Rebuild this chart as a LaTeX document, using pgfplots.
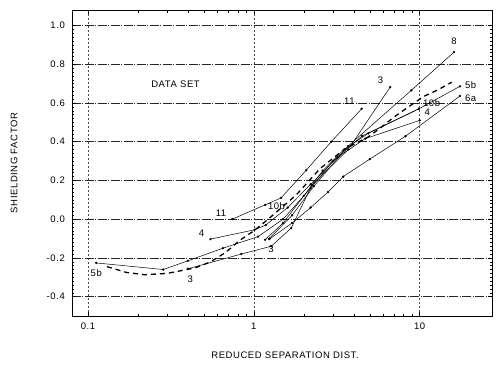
\documentclass[border=0pt]{standalone}
\usepackage{fontspec}
\setmainfont{Liberation Sans}[LetterSpace=6]
\usepackage{pgfplots}
\pgfplotsset{compat=1.18}
\tikzset{crv/.style={black, solid, line width=0.5pt, mark=*, mark size=0.9pt, mark options={solid, fill=black}}}
\begin{document}
\begin{tikzpicture}[font=\fontsize{9.5}{11}\selectfont]
\begin{axis}[
  scale only axis, width=420pt, height=306pt,
  xmode=log, xmin=0.08, xmax=27.3, ymin=-0.5, ymax=1.08,
  xtick={0.1,1,10}, xticklabels={0.1,1,10},
  ytick={-0.4,-0.2,0,0.2,0.4,0.6,0.8,1.0},
  yticklabels={-0.4,-0.2,0.0,0.2,0.4,0.6,0.8,1.0},
  minor y tick num=9,
  yticklabel style={inner sep=1pt, xshift=-6pt},
  xticklabel style={yshift=-3pt},
  tick align=inside, major tick length=4pt, minor tick length=2.5pt,
  tick style={black, line width=0.4pt},
  axis line style={black, line width=0.8pt},
  grid=major,
  x grid style={black!70, line width=0.4pt, dash pattern=on 2pt off 2pt},
  y grid style={black!85, line width=0.7pt, dash pattern=on 9pt off 1.5pt on 1pt off 1.5pt},
]
\coordinate (ll) at (rel axis cs:0,0);
\coordinate (ur) at (rel axis cs:1,1);
\coordinate (ml) at (rel axis cs:0,0.5);
\coordinate (mb) at (rel axis cs:0.5,0);
% data set (dashed)
\addplot[black, no marks, line width=1.3pt, dash pattern=on 5pt off 4pt] coordinates {
 (0.13,-0.245) (0.17,-0.275) (0.22,-0.287) (0.30,-0.28) (0.44,-0.252) (0.55,-0.22)
 (0.68,-0.17) (0.82,-0.11) (1.0,-0.06) (1.22,0.0) (1.8,0.125) (2.5,0.26) (3.5,0.36)
 (4.9,0.425) (5.9,0.476) (7,0.527) (8.8,0.587) (10.6,0.634) (12.9,0.668) (15.6,0.707)};
% 5b
\addplot[crv] coordinates {(0.112,-0.226) (0.284,-0.26) (0.40,-0.215) (0.65,-0.15) (1.06,-0.09)
 (1.5,0.0) (2.2,0.16) (3.0,0.30) (4.5,0.43) (9.9,0.57) (17.5,0.686)};
% 3
\addplot[crv] coordinates {(0.40,-0.256) (0.84,-0.18) (1.27,-0.14) (1.68,-0.046) (2.24,0.176)
 (3.71,0.36) (6.64,0.682)};
% 4
\addplot[crv] coordinates {(0.547,-0.103) (1.01,-0.055) (1.18,-0.03) (1.6,0.06) (2.2,0.18)
 (3.2,0.32) (4.7,0.416) (10,0.51)};
% 11
\addplot[crv] coordinates {(0.74,0.0) (1.17,0.074) (1.46,0.11) (2.07,0.253) (2.93,0.40) (4.47,0.57)};
% 8
\addplot[crv] coordinates {(1.24,-0.10) (1.7,0.02) (2.3,0.17) (3.7,0.377) (8.9,0.665) (16.1,0.862)};
% 10b
\addplot[crv] coordinates {(1.17,-0.106) (1.5,-0.02) (2.0,0.12) (2.6,0.25) (3.5,0.36) (4.9,0.443) (9.9,0.57)};
% 6a
\addplot[crv] coordinates {(1.24,-0.103) (1.7,-0.02) (2.2,0.06) (2.8,0.14) (3.46,0.22) (5,0.31)
 (8.2,0.428) (17.5,0.636)};
% labels
\node at (axis cs:0.337,0.696) {DATA SET};
\node at (axis cs:16.1,0.92) {8};
\node at (axis cs:5.8,0.716) {3};
\node at (axis cs:3.77,0.608) {11};
\node at (axis cs:11.8,0.598) {10b};
\node at (axis cs:11.1,0.553) {4};
\node at (axis cs:20.3,0.69) {5b};
\node at (axis cs:20.3,0.622) {6a};
\node at (axis cs:0.634,0.031) {11};
\node at (axis cs:0.484,-0.072) {4};
\node at (axis cs:1.37,0.065) {10b};
\node at (axis cs:1.27,-0.153) {3};
\node at (axis cs:0.413,-0.312) {3};
\node at (axis cs:0.112,-0.281) {5b};
\end{axis}
\node[rotate=90] at ([xshift=-58pt]ml) {SHIELDING FACTOR};
\node at ([yshift=-39pt,xshift=3pt]mb) {REDUCED SEPARATION DIST.};
\pgfresetboundingbox
\path ([shift={(-72pt,-49pt)}]ll) rectangle ([shift={(6pt,10pt)}]ur);
\end{tikzpicture}
\end{document}
